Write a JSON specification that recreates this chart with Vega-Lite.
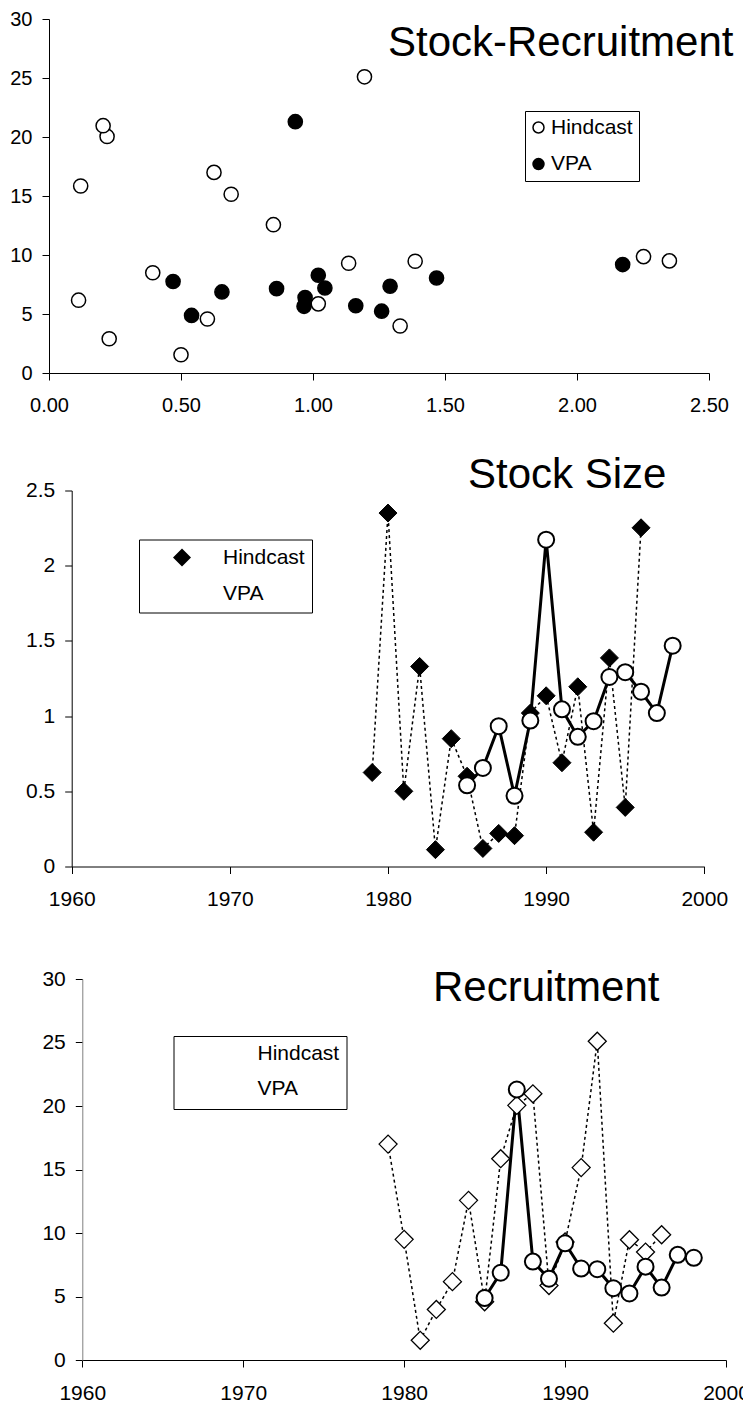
{
  "$schema": "https://vega.github.io/schema/vega-lite/v6.json",
  "background": "white",
  "padding": {"top": 9, "left": 0, "right": 0, "bottom": 0},
  "datasets": {
    "fish": [
      {"year": 1979, "series": "Hindcast", "stock": 0.625, "recruit": 17.0},
      {"year": 1980, "series": "Hindcast", "stock": 2.35, "recruit": 9.5},
      {"year": 1981, "series": "Hindcast", "stock": 0.50, "recruit": 1.55},
      {"year": 1982, "series": "Hindcast", "stock": 1.33, "recruit": 3.98},
      {"year": 1983, "series": "Hindcast", "stock": 0.112, "recruit": 6.17},
      {"year": 1984, "series": "Hindcast", "stock": 0.85, "recruit": 12.57},
      {"year": 1985, "series": "Hindcast", "stock": 0.60, "recruit": 4.58},
      {"year": 1986, "series": "Hindcast", "stock": 0.12, "recruit": 15.85},
      {"year": 1987, "series": "Hindcast", "stock": 0.22, "recruit": 20.05},
      {"year": 1988, "series": "Hindcast", "stock": 0.205, "recruit": 20.96},
      {"year": 1989, "series": "Hindcast", "stock": 1.02, "recruit": 5.86},
      {"year": 1990, "series": "Hindcast", "stock": 1.135, "recruit": 9.3},
      {"year": 1991, "series": "Hindcast", "stock": 0.69, "recruit": 15.15},
      {"year": 1992, "series": "Hindcast", "stock": 1.195, "recruit": 25.1},
      {"year": 1993, "series": "Hindcast", "stock": 0.228, "recruit": 2.9},
      {"year": 1994, "series": "Hindcast", "stock": 1.387, "recruit": 9.47},
      {"year": 1995, "series": "Hindcast", "stock": 0.393, "recruit": 8.5},
      {"year": 1996, "series": "Hindcast", "stock": 2.252, "recruit": 9.86},
      {"year": 1985, "series": "VPA", "stock": 0.54, "recruit": 4.88},
      {"year": 1986, "series": "VPA", "stock": 0.655, "recruit": 6.87},
      {"year": 1987, "series": "VPA", "stock": 0.933, "recruit": 21.3},
      {"year": 1988, "series": "VPA", "stock": 0.47, "recruit": 7.75},
      {"year": 1989, "series": "VPA", "stock": 0.97, "recruit": 6.4},
      {"year": 1990, "series": "VPA", "stock": 2.173, "recruit": 9.19},
      {"year": 1991, "series": "VPA", "stock": 1.045, "recruit": 7.2},
      {"year": 1992, "series": "VPA", "stock": 0.862, "recruit": 7.15},
      {"year": 1993, "series": "VPA", "stock": 0.966, "recruit": 5.65},
      {"year": 1994, "series": "VPA", "stock": 1.26, "recruit": 5.24},
      {"year": 1995, "series": "VPA", "stock": 1.292, "recruit": 7.35},
      {"year": 1996, "series": "VPA", "stock": 1.162, "recruit": 5.7},
      {"year": 1997, "series": "VPA", "stock": 1.02, "recruit": 8.28},
      {"year": 1998, "series": "VPA", "stock": 1.468, "recruit": 8.05}
    ]
  },
  "config": {
    "view": {"stroke": null},
    "font": "Liberation Sans",
    "axis": {
      "grid": false,
      "domainColor": "black",
      "tickColor": "black",
      "labelColor": "black",
      "labelFont": "Liberation Sans",
      "tickSize": 7,
      "domainWidth": 1,
      "tickWidth": 1,
      "labelFlush": false,
      "labelOverlap": false
    },
    "title": {
      "font": "Liberation Sans",
      "fontSize": 42,
      "fontWeight": "normal",
      "color": "black",
      "anchor": "start",
      "frame": "group",
      "baseline": "alphabetic",
      "offset": 0
    },
    "legend": {
      "labelFont": "Liberation Sans",
      "labelColor": "black",
      "labelFontSize": 21,
      "strokeColor": "black",
      "fillColor": "white"
    }
  },
  "resolve": {
    "scale": {"x": "independent", "y": "independent", "fill": "independent", "shape": "independent"},
    "legend": {"fill": "independent", "shape": "independent"}
  },
  "columns": 1,
  "align": "none",
  "spacing": 38.5,
  "concat": [
    {
      "width": 660,
      "height": 354,
      "title": {"text": "Stock-Recruitment", "dx": 339, "dy": 60.2},
      "data": {"name": "fish"},
      "mark": {"type": "point", "shape": "circle", "filled": true, "stroke": "black", "strokeWidth": 1.5, "size": 200, "opacity": 1},
      "encoding": {
        "x": {"field": "stock", "type": "quantitative", "title": null,
              "scale": {"domain": [0, 2.5], "nice": false},
              "axis": {"values": [0, 0.5, 1, 1.5, 2, 2.5], "format": ".2f", "labelFontSize": 20, "labelPadding": 15}},
        "y": {"field": "recruit", "type": "quantitative", "title": null,
              "scale": {"domain": [0, 30], "nice": false},
              "axis": {"values": [0, 5, 10, 15, 20, 25, 30], "labelFontSize": 20, "labelPadding": 10, "minExtent": 48.5}},
        "fill": {"field": "series", "type": "nominal",
                 "scale": {"domain": ["Hindcast", "VPA"], "range": ["white", "black"]},
                 "legend": {"title": null, "orient": "none", "legendX": 476, "legendY": 92, "padding": 6,
                            "symbolType": "circle", "symbolSize": 121, "symbolOffset": -3, "labelOffset": 2, "rowPadding": 14.6,
                            "symbolStrokeColor": "black", "symbolStrokeWidth": 1.5,
                            "encode": {"symbols": {"shape": {"value": "circle"}, "stroke": {"value": "black"}, "strokeWidth": {"value": 1.5}, "opacity": {"value": 1}}}}}
      }
    },
    {
      "width": 655.3,
      "height": 376,
      "title": {"text": "Stock Size", "dx": 419, "dy": 21},
      "data": {"name": "fish"},
      "encoding": {
        "x": {"field": "year", "type": "quantitative", "title": null,
              "scale": {"domain": [1960, 2000], "nice": false, "range": [22.7, 655.3]},
              "axis": {"values": [1960, 1970, 1980, 1990, 2000], "format": "d", "labelFontSize": 21, "labelPadding": 15, "minExtent": 62}},
        "y": {"field": "stock", "type": "quantitative", "title": null,
              "scale": {"domain": [0, 2.5], "nice": false},
              "axis": {"values": [0, 0.5, 1, 1.5, 2, 2.5], "format": "~g", "labelFontSize": 21, "labelPadding": 10, "offset": -22.7, "minExtent": 0}}
      },
      "layer": [
        {
          "mark": {"type": "point", "filled": true, "stroke": "black", "opacity": 0},
          "encoding": {
            "shape": {"field": "series", "type": "nominal",
                      "scale": {"domain": ["Hindcast", "VPA"],
                                "range": ["M-3.5,0L-3.1,0M-2.6,0L-2.2,0M-1.7,0L-1.3,0M1.3,0L1.7,0M2.2,0L2.6,0M3.1,0L3.5,0M-0.9,0L0,-0.9L0.9,0L0,0.9Z",
                                          "M-3.5,0L-0.8,0M0.8,0L3.5,0M-0.8,0A0.8,0.8,0,1,1,0.8,0A0.8,0.8,0,1,1,-0.8,0Z"]},
                      "legend": {"title": null, "orient": "none", "legendX": 90, "legendY": 49, "padding": 7,
                                 "symbolSize": 400, "symbolOffset": 25, "labelOffset": 30, "rowPadding": 11,
                                 "symbolOpacity": 1, "symbolStrokeColor": "black", "symbolStrokeWidth": 2}},
            "fill": {"field": "series", "type": "nominal",
                     "scale": {"domain": ["Hindcast", "VPA"], "range": ["black", "white"]}}
          }
        },
        {
          "transform": [{"filter": "datum.series === 'Hindcast'"}],
          "mark": {"type": "line", "color": "black", "strokeWidth": 1.5, "strokeDash": [3, 3]}
        },
        {
          "transform": [{"filter": "datum.series === 'VPA'"}],
          "mark": {"type": "line", "color": "black", "strokeWidth": 3}
        },
        {
          "mark": {"type": "point", "filled": true, "stroke": "black", "opacity": 1},
          "encoding": {
            "shape": {"condition": {"test": "datum.series === 'VPA'", "value": "circle"}, "value": "diamond"},
            "fill": {"condition": {"test": "datum.series === 'VPA'", "value": "white"}, "value": "black"},
            "size": {"condition": {"test": "datum.series === 'VPA'", "value": 256}, "value": 324},
            "strokeWidth": {"condition": {"test": "datum.series === 'VPA'", "value": 2}, "value": 1}
          }
        }
      ]
    },
    {
      "width": 677,
      "height": 381,
      "title": {"text": "Recruitment", "dx": 384, "dy": 46},
      "data": {"name": "fish"},
      "encoding": {
        "x": {"field": "year", "type": "quantitative", "title": null,
              "scale": {"domain": [1960, 2000], "nice": false, "range": [33.3, 677]},
              "axis": {"values": [1960, 1970, 1980, 1990, 2000], "format": "d", "labelFontSize": 21, "labelPadding": 15}},
        "y": {"field": "recruit", "type": "quantitative", "title": null,
              "scale": {"domain": [0, 30], "nice": false},
              "axis": {"values": [0, 5, 10, 15, 20, 25, 30], "labelFontSize": 21, "labelPadding": 10, "offset": -33.3, "minExtent": 0, "domainColor": "#808080"}}
      },
      "layer": [
        {
          "mark": {"type": "point", "filled": true, "stroke": "black", "opacity": 0},
          "encoding": {
            "shape": {"field": "series", "type": "nominal",
                      "scale": {"domain": ["Hindcast", "VPA"],
                                "range": ["M-3.5,0L-3.1,0M-2.6,0L-2.2,0M-1.7,0L-1.3,0M1.3,0L1.7,0M2.2,0L2.6,0M3.1,0L3.5,0M-0.9,0L0,-0.9L0.9,0L0,0.9Z",
                                          "M-3.5,0L-0.8,0M0.8,0L3.5,0M-0.8,0A0.8,0.8,0,1,1,0.8,0A0.8,0.8,0,1,1,-0.8,0Z"]},
                      "legend": {"title": null, "orient": "none", "legendX": 124.5, "legendY": 57, "padding": 7,
                                 "symbolSize": 400, "symbolOffset": 25, "labelOffset": 30, "rowPadding": 10.4,
                                 "symbolOpacity": 1, "symbolStrokeColor": "black", "symbolStrokeWidth": 2}},
            "fill": {"field": "series", "type": "nominal",
                     "scale": {"domain": ["Hindcast", "VPA"], "range": ["white", "white"]}}
          }
        },
        {
          "transform": [{"filter": "datum.series === 'Hindcast'"}],
          "mark": {"type": "line", "color": "black", "strokeWidth": 1.5, "strokeDash": [3, 3]}
        },
        {
          "transform": [{"filter": "datum.series === 'VPA'"}],
          "mark": {"type": "line", "color": "black", "strokeWidth": 3}
        },
        {
          "mark": {"type": "point", "filled": true, "stroke": "black", "opacity": 1},
          "encoding": {
            "shape": {"condition": {"test": "datum.series === 'VPA'", "value": "circle"}, "value": "diamond"},
            "fill": {"value": "white"},
            "size": {"condition": {"test": "datum.series === 'VPA'", "value": 256}, "value": 324},
            "strokeWidth": {"condition": {"test": "datum.series === 'VPA'", "value": 2}, "value": 1.3}
          }
        }
      ]
    }
  ]
}
